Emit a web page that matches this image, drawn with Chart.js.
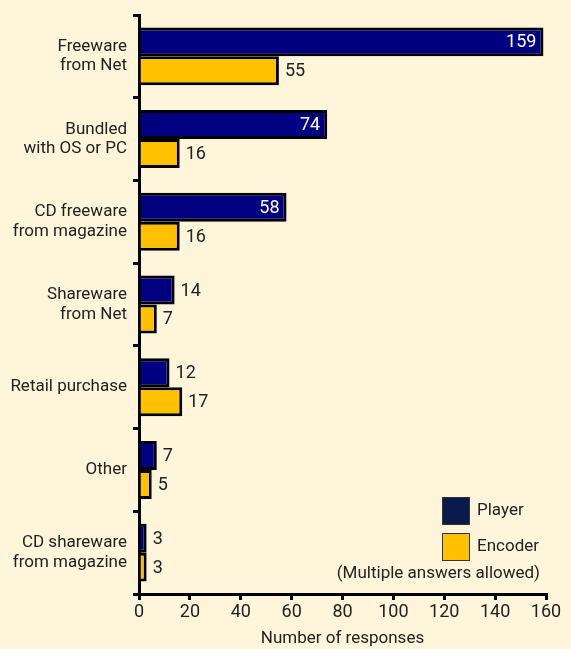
<!DOCTYPE html>
<html>
<head>
<meta charset="utf-8">
<script src="https://cdn.jsdelivr.net/npm/chart.js@4/dist/chart.umd.min.js"></script>
<style>
  html, body { margin: 0; padding: 0; background: #fef5da; }
  #wrap { width: 571px; height: 649px; }
</style>
</head>
<body>
<div id="wrap"><canvas id="chart" width="571" height="649"></canvas></div>
<script>
const categories = [
    ['Freeware', 'from Net'],
    ['Bundled', 'with OS or PC'],
    ['CD freeware', 'from magazine'],
    ['Shareware', 'from Net'],
    'Retail purchase',
    'Other',
    ['CD shareware', 'from magazine'],
];
const player = [159, 74, 58, 14, 12, 7, 3];
const encoder = [55, 16, 16, 7, 17, 5, 3];
const xTicks = [0, 20, 40, 60, 80, 100, 120, 140, 160];

const FONT = 'Roboto, "Liberation Sans", sans-serif';
const TEXT = '#222222';

// value labels: big player bars get white text inside, the rest sit outside
const valueLabels = {
    id: 'valueLabels',
    afterDatasetsDraw(chart) {
        const ctx = chart.ctx;
        ctx.save();
        ctx.font = '18px ' + FONT;
        ctx.textBaseline = 'middle';
        chart.data.datasets.forEach((ds, i) => {
            chart.getDatasetMeta(i).data.forEach((bar, j) => {
                const v = ds.data[j];
                if (i === 0 && v > 40) {
                    ctx.fillStyle = '#ffffff';
                    ctx.textAlign = 'right';
                    ctx.fillText(v, bar.x - 7, bar.y + 1);
                } else {
                    ctx.fillStyle = TEXT;
                    ctx.textAlign = 'left';
                    ctx.fillText(v, bar.x + 6, bar.y + 1);
                }
            });
        });
        ctx.restore();
    }
};

const legendBox = {
    id: 'legendBox',
    afterDraw(chart) {
        const ctx = chart.ctx;
        ctx.save();
        ctx.font = '17px ' + FONT;
        ctx.textBaseline = 'middle';
        ctx.textAlign = 'left';
        const items = [['Player', '#0b1a4c', 497], ['Encoder', '#ffc000', 533]];
        items.forEach(([label, color, y]) => {
            ctx.fillStyle = color;
            ctx.fillRect(442, y, 28, 28);
            ctx.strokeStyle = '#333333';
            ctx.lineWidth = 1;
            ctx.strokeRect(442.5, y + 0.5, 27, 27);
            ctx.fillStyle = TEXT;
            ctx.fillText(label, 477, y + 14);
        });
        ctx.textAlign = 'right';
        ctx.fillText('(Multiple answers allowed)', 540, 574);
        ctx.restore();
    }
};

new Chart(document.getElementById('chart'), {
    type: 'bar',
    data: {
        labels: categories,
        datasets: [
            {
                label: 'Player',
                data: player,
                backgroundColor: '#000080',
                borderColor: '#000000',
                borderWidth: 3,
                borderSkipped: 'left',
            },
            {
                label: 'Encoder',
                data: encoder,
                backgroundColor: '#ffc000',
                borderColor: '#000000',
                borderWidth: 3,
                borderSkipped: 'left',
            }
        ]
    },
    options: {
        indexAxis: 'y',
        responsive: false,
        animation: false,
        layout: { padding: { top: 15, right: 25, left: 0, bottom: 0 } },
        datasets: { bar: { categoryPercentage: 0.7, barPercentage: 1.0 } },
        plugins: {
            legend: { display: false },
            tooltip: { enabled: false },
        },
        scales: {
            x: {
                min: 0,
                max: 160,
                afterBuildTicks: (axis) => { axis.ticks = xTicks.map(v => ({ value: v })); },
                afterFit: (axis) => { axis.height = 55; },
                border: { display: true, color: '#000000', width: 3 },
                grid: { drawOnChartArea: false, drawTicks: true, tickLength: 6, color: '#000000', lineWidth: 3 },
                ticks: { color: TEXT, font: { family: FONT, size: 18 }, padding: 2, maxRotation: 0 },
                title: {
                    display: true,
                    text: 'Number of responses',
                    color: TEXT,
                    font: { family: FONT, size: 17 },
                    padding: { top: 0, bottom: 0 },
                },
            },
            y: {
                afterFit: (axis) => {
                    axis.width = 139;
                    axis.paddingTop = 0;
                    axis.paddingBottom = 0;
                },
                border: { display: true, color: '#000000', width: 3 },
                grid: { offset: true, drawOnChartArea: false, drawTicks: true, tickLength: 6, color: '#000000', lineWidth: 3 },
                ticks: { color: TEXT, font: { family: FONT, size: 17, lineHeight: 1.15 }, padding: 6 },
            },
        },
    },
    plugins: [valueLabels, legendBox],
});
</script>
</body>
</html>
